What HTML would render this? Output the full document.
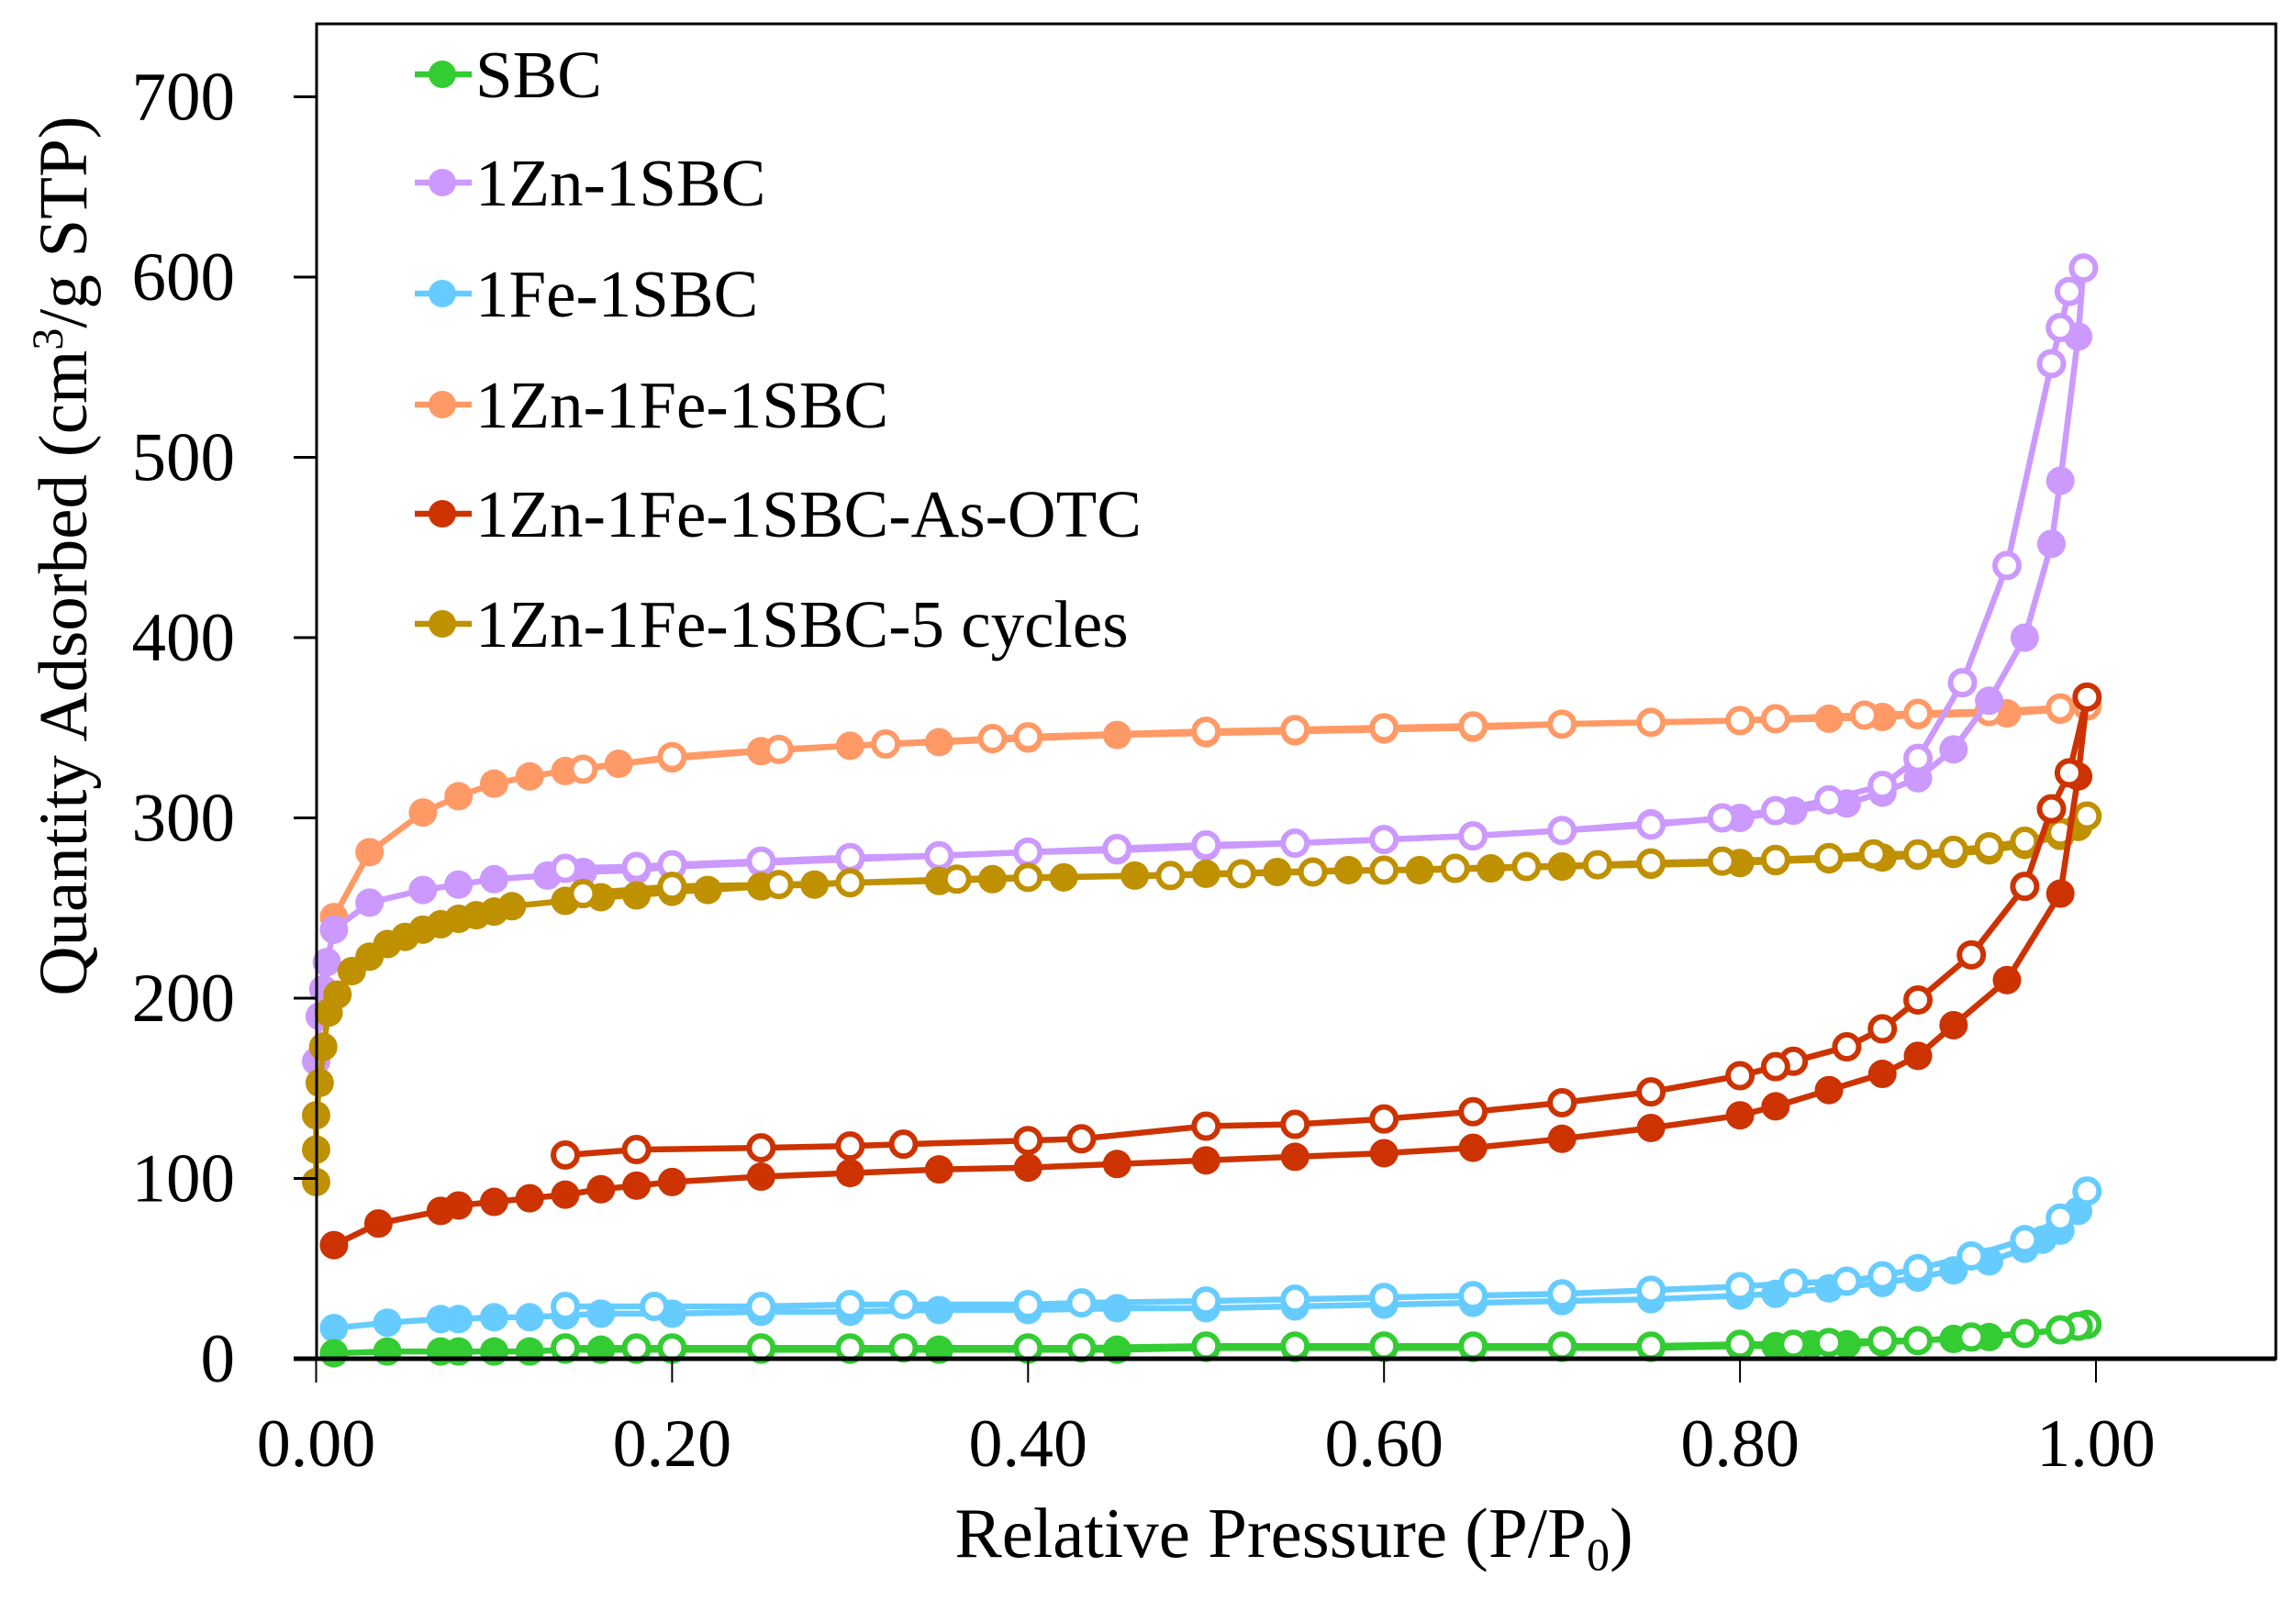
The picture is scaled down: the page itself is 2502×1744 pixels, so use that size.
<!DOCTYPE html>
<html><head><meta charset="utf-8"><style>
html,body{margin:0;padding:0;background:#fff}
svg text{font-family:"Liberation Serif","Times New Roman",serif;fill:#000}
</style></head><body>
<svg id="chart" width="2502" height="1739" viewBox="0 0 2502 1739" xmlns="http://www.w3.org/2000/svg">
<rect x="0" y="0" width="2502" height="1739" fill="#fff"/>
<g id="plot"></g>
<g id="axes"></g>
<g id="legend"></g>
</svg>
<script>
const xTicks = [0, 0.2, 0.4, 0.6, 0.8, 1.0];
const xTickLabels = ["0.00", "0.20", "0.40", "0.60", "0.80", "1.00"];
const yTicks = [0, 100, 200, 300, 400, 500, 600, 700];
const yTickLabels = ["0", "100", "200", "300", "400", "500", "600", "700"];
const seriesNames = ["SBC", "1Zn-1SBC", "1Fe-1SBC", "1Zn-1Fe-1SBC", "1Zn-1Fe-1SBC-As-OTC", "1Zn-1Fe-1SBC-5 cycles"];
const seriesColors = ["#33cc33", "#cc99ff", "#66ccff", "#ff9966", "#cc3300", "#bf9000"];

const sbcAdsP = [0.01,0.04,0.07,0.08,0.1,0.12,0.14,0.16,0.18,0.2,0.25,0.3,0.35,0.4,0.45,0.5,0.55,0.6,0.65,0.7,0.75,0.8,0.82,0.84,0.86,0.88,0.9,0.92,0.94,0.96,0.98,0.99,0.995];
const sbcAdsV = [3,4,4,4,4,4,5,5,5,5,5,5,5,5,5,6,6,6,6,6,6,7,7,8,8,9,10,11,12,14,16,18,19];
const sbcDesP = [0.995,0.99,0.98,0.96,0.93,0.9,0.88,0.85,0.83,0.8,0.75,0.7,0.65,0.6,0.55,0.5,0.43,0.4,0.33,0.3,0.25,0.2,0.18,0.14];
const sbcDesV = [19,18,16,14,12,10,10,9,8,8,7,7,7,7,7,7,6,6,6,6,6,6,6,6];

const znAdsP = [0,0.002,0.004,0.006,0.01,0.03,0.06,0.08,0.1,0.13,0.15,0.18,0.2,0.25,0.3,0.35,0.4,0.45,0.5,0.55,0.6,0.65,0.7,0.75,0.8,0.83,0.86,0.88,0.9,0.92,0.94,0.96,0.975,0.98,0.99,0.993];
const znAdsV = [165,190,205,220,238,253,260,263,266,268,270,271,273,275,277,279,281,282,284,286,288,290,293,297,300,304,308,314,322,338,365,400,452,487,567,605];
const znDesP = [0.993,0.985,0.98,0.975,0.95,0.925,0.9,0.88,0.85,0.82,0.79,0.75,0.7,0.65,0.6,0.55,0.5,0.45,0.4,0.35,0.3,0.25,0.2,0.18,0.14];
const znDesV = [605,592,572,552,440,375,333,318,310,304,300,296,293,290,288,286,285,283,281,279,278,276,274,273,272];

const feAdsP = [0.01,0.04,0.07,0.08,0.1,0.12,0.14,0.16,0.2,0.25,0.3,0.35,0.4,0.45,0.5,0.55,0.6,0.65,0.7,0.75,0.8,0.82,0.85,0.88,0.9,0.92,0.94,0.96,0.97,0.98,0.99,0.995];
const feAdsV = [17,20,22,22,23,23,24,25,25,26,26,27,27,28,28,29,30,31,32,33,35,36,39,42,45,49,54,61,66,71,82,93];
const feDesP = [0.995,0.98,0.96,0.93,0.9,0.88,0.86,0.83,0.8,0.75,0.7,0.65,0.6,0.55,0.5,0.43,0.4,0.33,0.3,0.25,0.19,0.14];
const feDesV = [93,78,66,57,50,46,43,42,40,38,36,35,34,33,32,31,30,30,30,29,29,29];

const znfeAdsP = [0.01,0.03,0.06,0.08,0.1,0.12,0.14,0.17,0.2,0.25,0.3,0.35,0.4,0.45,0.5,0.55,0.6,0.65,0.7,0.75,0.8,0.85,0.88,0.9,0.95,0.98,0.995];
const znfeAdsV = [245,281,303,312,319,323,326,330,333,337,340,342,344,346,347,348,349,350,352,353,354,355,356,357,358,360,362];
const znfeDesP = [0.995,0.98,0.94,0.9,0.87,0.82,0.8,0.75,0.7,0.65,0.6,0.55,0.5,0.4,0.38,0.32,0.26,0.2,0.15];
const znfeDesV = [362,361,359,358,357,355,354,353,352,351,350,349,348,345,344,341,338,334,327];

const otcAdsP = [0.01,0.035,0.07,0.08,0.1,0.12,0.14,0.16,0.18,0.2,0.25,0.3,0.35,0.4,0.45,0.5,0.55,0.6,0.65,0.7,0.75,0.8,0.82,0.85,0.88,0.9,0.92,0.95,0.98,0.99,0.995];
const otcAdsV = [63,75,82,85,87,89,91,94,96,98,101,103,105,106,108,110,112,114,117,122,128,135,140,149,158,168,185,210,258,323,367];
const otcDesP = [0.995,0.985,0.975,0.96,0.93,0.9,0.88,0.86,0.83,0.82,0.8,0.75,0.7,0.65,0.6,0.55,0.5,0.43,0.4,0.33,0.3,0.25,0.18,0.14];
const otcDesV = [367,325,305,262,224,199,183,173,165,162,157,148,142,137,133,130,129,122,121,119,118,117,116,113];

const cycAdsP = [0,0,0,0.002,0.004,0.007,0.012,0.02,0.03,0.04,0.05,0.06,0.07,0.08,0.09,0.1,0.11,0.14,0.16,0.18,0.2,0.22,0.25,0.28,0.3,0.35,0.38,0.42,0.46,0.5,0.54,0.58,0.62,0.66,0.7,0.75,0.8,0.82,0.85,0.88,0.9,0.92,0.94,0.96,0.98,0.99,0.995];
const cycAdsV = [98,116,135,153,173,192,202,215,223,230,234,238,241,244,246,248,251,254,256,257,259,260,262,263,264,265,266,267,268,269,270,271,271,272,273,274,275,276,277,278,279,280,282,285,290,295,301];
const cycDesP = [0.995,0.98,0.96,0.94,0.92,0.9,0.875,0.85,0.82,0.79,0.75,0.72,0.68,0.64,0.6,0.56,0.52,0.48,0.4,0.36,0.3,0.26,0.2,0.15];
const cycDesV = [301,292,287,284,282,280,280,278,277,276,275,274,273,272,271,270,269,268,267,266,264,263,262,258];

const NS = "http://www.w3.org/2000/svg";
const X0 = 344.5, XPX = 1939.5, Y0 = 1481, YPX = 1.965;
function sx(p){ return X0 + p * XPX; }
function sy(v){ return Y0 - v * YPX; }
function mk(tag, attrs, parent){ const e = document.createElementNS(NS, tag); for (const k in attrs) e.setAttribute(k, attrs[k]); parent.appendChild(e); return e; }

const plot = document.getElementById('plot');
const axes = document.getElementById('axes');
const legend = document.getElementById('legend');

const allSeries = [
  [sbcAdsP, sbcAdsV, sbcDesP, sbcDesV],
  [znAdsP, znAdsV, znDesP, znDesV],
  [feAdsP, feAdsV, feDesP, feDesV],
  [znfeAdsP, znfeAdsV, znfeDesP, znfeDesV],
  [otcAdsP, otcAdsV, otcDesP, otcDesV],
  [cycAdsP, cycAdsV, cycDesP, cycDesV]
];
const drawOrder = [3, 1, 5, 4, 2, 0];
drawOrder.forEach(function(i){
  const s = allSeries[i], col = seriesColors[i];
  const g = mk('g', {}, plot);
  
  
  [[s[0], s[1], false], [s[2], s[3], true]].forEach(function(b){
    const pts = b[0].map(function(p, j){ return sx(p).toFixed(1) + ',' + sy(b[1][j]).toFixed(1); }).join(' ');
    const line = mk('polyline', {points: pts, fill: 'none', stroke: col, 'stroke-width': 6.5, 'stroke-linejoin': 'round'}, g);
    
    
    b[0].forEach(function(p, j){
      const c = b[2]
        ? mk('circle', {cx: sx(p), cy: sy(b[1][j]), r: 13, fill: '#fff', stroke: col, 'stroke-width': 6}, g)
        : mk('circle', {cx: sx(p), cy: sy(b[1][j]), r: 15.5, fill: col}, g);
      
      
    });
  });
});

const frame = mk('rect', {x: 345, y: 26, width: 2135, height: 1455, fill: 'none', stroke: '#000', 'stroke-width': 3}, axes);


const xAxisLine = mk('line', {x1: 320, y1: 1481, x2: 2480, y2: 1481, stroke: '#000', 'stroke-width': 5}, axes);



xTicks.forEach(function(t, i){
  const l = mk('line', {x1: sx(t), y1: 1481, x2: sx(t), y2: 1507, stroke: '#000', 'stroke-width': 2}, axes);
  
  
  const tx = mk('text', {x: sx(t), y: 1598, 'font-size': 74, 'text-anchor': 'middle'}, axes);
  tx.textContent = xTickLabels[i];
  
  
});
yTicks.forEach(function(t, i){
  const l = mk('line', {x1: 320, y1: sy(t), x2: 345, y2: sy(t), stroke: '#000', 'stroke-width': 3}, axes);
  
  
  const tx = mk('text', {x: 256, y: sy(t) + 25, 'font-size': 75, 'text-anchor': 'end'}, axes);
  tx.textContent = yTickLabels[i];
  
  
});

const xt = mk('text', {x: 1410, y: 1697, 'font-size': 77, 'text-anchor': 'middle'}, axes);
xt.innerHTML = 'Relative Pressure (P/P<tspan font-size="50" dy="14">0</tspan><tspan dy="-14">)</tspan>';


const yt = mk('text', {x: 0, y: 0, 'font-size': 75, 'text-anchor': 'middle', transform: 'translate(94,606) rotate(-90)'}, axes);
yt.innerHTML = 'Quantity Adsorbed (cm<tspan font-size="48" dy="-26">3</tspan><tspan dy="26">/g STP)</tspan>';



const legendY = [81, 199, 320, 441, 560, 680];
seriesNames.forEach(function(n, i){
  const g = mk('g', {}, legend);
  
  
  mk('line', {x1: 452, y1: legendY[i], x2: 514, y2: legendY[i], stroke: seriesColors[i], 'stroke-width': 6.5}, g);
  mk('circle', {cx: 482, cy: legendY[i], r: 15, fill: seriesColors[i]}, g);
  const t = mk('text', {x: 518, y: legendY[i] + 25, 'font-size': 73}, g);
  t.textContent = n;
  
  
});
</script>
</body></html>
